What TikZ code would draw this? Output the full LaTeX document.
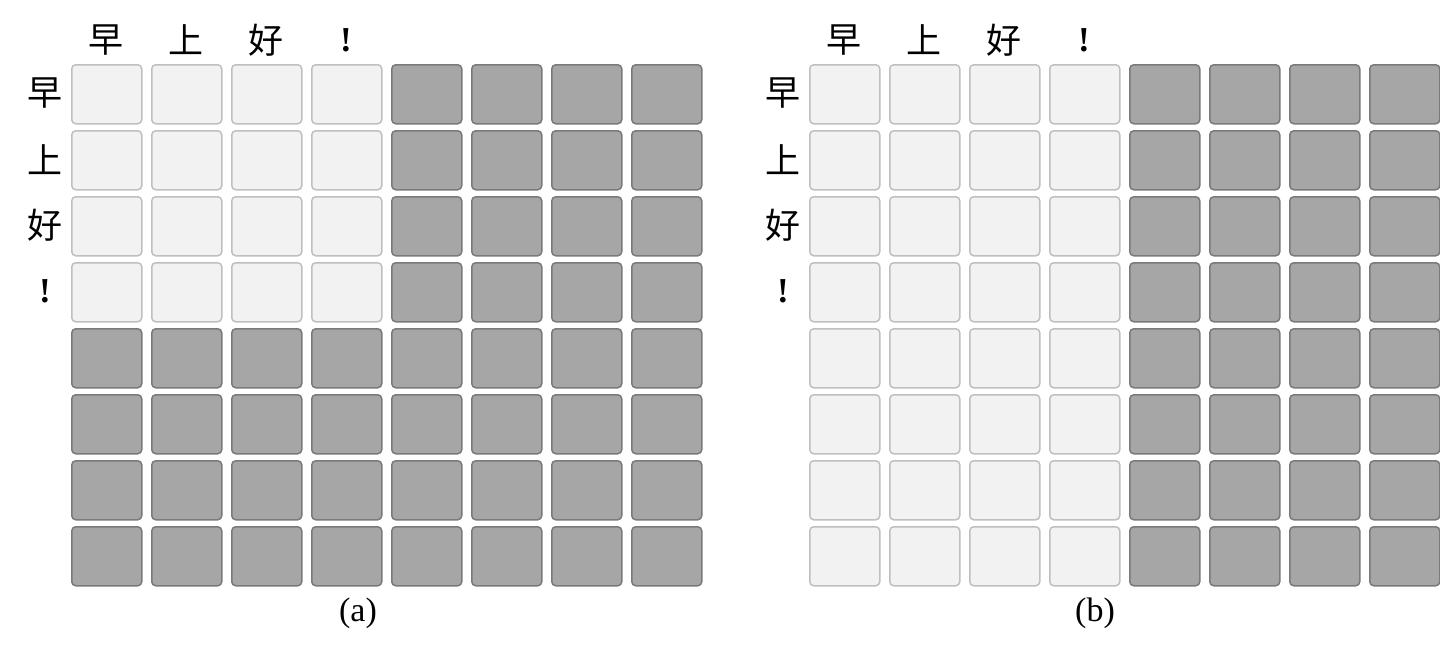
\documentclass[tikz,border=0pt]{standalone}
\usepackage{fontspec}
\setmainfont{Liberation Serif}
\newfontfamily\cjk{Noto Sans CJK SC}
\usetikzlibrary{positioning}

\begin{document}
\begin{tikzpicture}[x=1pt, y=-1pt,
  cell/.style={rectangle, rounded corners=4pt, line width=1.5pt, minimum width=70pt, minimum height=59pt, inner sep=0pt, anchor=north west},
  lightcell/.style={cell, draw=black!25, fill=black!5},
  darkcell/.style={cell, draw=black!52, fill=black!35},
  word/.style={font=\cjk\fontsize{35}{40}\selectfont, inner sep=0pt},
  subcaption/.style={font=\fontsize{34}{40}\selectfont, inner sep=0pt}]
\useasboundingbox (0,0) rectangle (1440,659);
% (a): only the top-left block is visible
\foreach \r in {0,...,7}
  \foreach \c in {0,...,7} {
    \pgfmathtruncatemacro{\lit}{and(\r<4,\c<4)}
    \ifnum\lit=1 \node[lightcell] (a-\r-\c) at (71+80*\c, 64+66*\r) {};
    \else \node[darkcell] (a-\r-\c) at (71+80*\c, 64+66*\r) {};
    \fi
  }
% (b): first four columns visible in every row
\foreach \r in {0,...,7}
  \foreach \c in {0,...,7} {
    \ifnum\c<4 \node[lightcell] (b-\r-\c) at (809+80*\c, 64+66*\r) {};
    \else \node[darkcell] (b-\r-\c) at (809+80*\c, 64+66*\r) {};
    \fi
  }
\foreach \w [count=\i from 0] in {早,上,好,{\normalfont\bfseries !}} {
  \node[word] (at-\i) at (106+80*\i, 40) {\w};
  \node[word] (al-\i) at (45, 93.5+66*\i) {\w};
  \node[word] (bt-\i) at (844+80*\i, 40) {\w};
  \node[word] (bl-\i) at (783, 93.5+66*\i) {\w};
}
\node[subcaption] (capa) at (358, 613) {(a)};
\node[subcaption] (capb) at (1095, 613) {(b)};
\end{tikzpicture}
\end{document}
